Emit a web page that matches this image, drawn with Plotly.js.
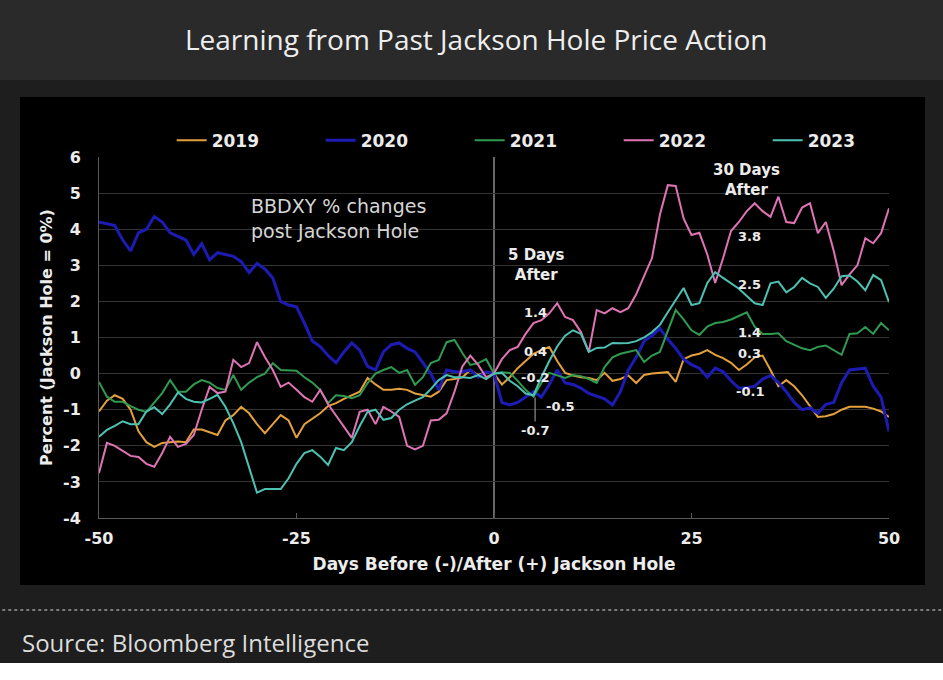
<!DOCTYPE html>
<html>
<head>
<meta charset="utf-8">
<script src="https://cdn.plot.ly/plotly-3.0.1.min.js"></script>
<style>
  html, body { margin: 0; padding: 0; background: #ffffff; }
  #chart { width: 943px; height: 680px; }
</style>
</head>
<body>
<div id="chart"></div>
<script>
// ---- Data ----
const days = [];
for (let d = -50; d <= 50; d++) days.push(d);

const seriesNames = ["2019", "2020", "2021", "2022", "2023"];

const y2019 = [-1.05,-0.75,-0.6,-0.7,-1.0,-1.6,-1.9,-2.03,-1.92,-1.9,
  -1.88,-1.9,-1.55,-1.55,-1.62,-1.7,-1.3,-1.15,-0.92,-1.1,
  -1.4,-1.65,-1.4,-1.15,-1.3,-1.78,-1.4,-1.25,-1.1,-0.9,
  -0.82,-0.7,-0.6,-0.5,-0.12,-0.3,-0.45,-0.45,-0.42,-0.45,
  -0.55,-0.6,-0.64,-0.5,-0.18,-0.15,-0.1,0.1,-0.04,0.04,
  0,
  -0.3,-0.1,0.15,0.35,0.55,0.65,0.74,0.35,0.02,-0.05,
  -0.1,-0.12,-0.18,0.02,-0.2,-0.15,-0.05,-0.26,-0.04,0.0,
  0.02,0.04,-0.23,0.4,0.5,0.55,0.65,0.52,0.43,0.3,
  0.1,0.25,0.45,0.5,0.1,-0.35,-0.18,-0.35,-0.6,-0.9,
  -1.2,-1.18,-1.12,-1.0,-0.92,-0.92,-0.92,-0.97,-1.05,-1.2];

const y2020 = [4.2,4.15,4.1,3.7,3.4,3.9,4.0,4.35,4.2,3.9,
  3.8,3.7,3.3,3.6,3.15,3.35,3.3,3.25,3.1,2.8,
  3.05,2.9,2.65,2.0,1.9,1.85,1.4,0.9,0.75,0.5,
  0.3,0.6,0.85,0.65,0.2,0.1,0.6,0.8,0.85,0.7,
  0.6,0.3,0.0,-0.45,0.1,0.05,0.05,0.1,-0.1,0.05,
  0,
  -0.8,-0.87,-0.8,-0.65,-0.5,-0.65,-0.3,0.1,-0.26,-0.3,
  -0.4,-0.55,-0.62,-0.7,-0.87,-0.5,0.1,0.45,0.9,1.05,
  1.25,0.95,0.7,0.4,0.25,0.15,-0.1,0.15,0.05,-0.2,
  -0.4,-0.4,-0.35,-0.15,-0.05,-0.25,-0.5,-0.8,-1.0,-0.95,
  -1.1,-0.85,-0.8,-0.25,0.1,0.12,0.15,-0.35,-0.65,-1.6];

const y2021 = [-0.23,-0.64,-0.78,-0.78,-0.9,-1.0,-1.06,-0.8,-0.54,-0.18,
  -0.5,-0.5,-0.3,-0.18,-0.25,-0.4,-0.45,-0.04,-0.45,-0.25,
  -0.1,0.0,0.29,0.1,0.1,0.08,-0.1,-0.25,-0.45,-0.82,
  -0.6,-0.62,-0.68,-0.6,-0.26,0.0,0.1,0.18,0.02,0.1,
  -0.31,-0.1,0.29,0.38,0.87,0.93,0.57,0.24,0.29,0.4,
  0,
  0.04,0.02,-0.2,-0.45,-0.64,-0.26,0.02,-0.05,-0.12,-0.04,
  -0.07,-0.15,-0.26,0.18,0.45,0.55,0.6,0.65,0.32,0.5,
  0.6,1.2,1.76,1.5,1.2,1.07,1.3,1.4,1.43,1.5,
  1.6,1.7,1.3,1.1,1.1,1.12,0.9,0.8,0.7,0.65,
  0.74,0.78,0.65,0.52,1.1,1.12,1.29,1.1,1.4,1.2];

const y2022 = [-2.75,-1.92,-2.0,-2.15,-2.28,-2.31,-2.5,-2.58,-2.2,-1.75,
  -2.03,-1.95,-1.7,-1.0,-0.37,-0.54,-0.5,0.38,0.18,0.29,
  0.87,0.46,0.1,-0.37,-0.25,-0.45,-0.65,-0.78,-0.45,-0.85,
  -1.15,-1.45,-1.78,-1.06,-1.0,-1.4,-0.92,-1.05,-1.2,-2.0,
  -2.1,-2.0,-1.3,-1.28,-1.1,-0.5,0.2,0.5,0.24,-0.1,
  0,
  0.4,0.65,0.74,1.1,1.4,1.48,1.67,1.95,1.57,1.48,
  1.15,0.6,1.76,1.67,1.81,1.7,1.81,2.2,2.7,3.2,
  4.4,5.22,5.2,4.3,3.84,3.9,3.3,2.51,3.2,3.95,
  4.2,4.5,4.72,4.5,4.34,4.9,4.2,4.17,4.6,4.72,
  3.89,4.2,3.4,2.45,2.75,3.0,3.75,3.61,3.89,4.58];

const y2023 = [-1.75,-1.56,-1.45,-1.32,-1.4,-1.4,-1.05,-0.93,-1.12,-0.85,
  -0.52,-0.7,-0.78,-0.8,-0.7,-0.59,-0.92,-1.37,-1.9,-2.6,
  -3.3,-3.2,-3.2,-3.2,-2.9,-2.5,-2.2,-2.12,-2.3,-2.53,
  -2.06,-2.12,-1.9,-1.45,-1.06,-1.0,-1.28,-1.23,-1.0,-0.85,
  -0.75,-0.65,-0.43,-0.18,-0.04,-0.1,-0.1,-0.12,-0.04,-0.15,
  0,
  0.02,-0.2,-0.35,-0.55,-0.6,-0.1,0.35,0.75,1.05,1.2,
  1.1,0.6,0.71,0.72,0.85,0.84,0.85,0.9,1.0,1.15,
  1.35,1.7,2.05,2.37,1.9,1.95,2.51,2.81,2.65,2.5,
  2.35,2.15,1.95,1.9,2.5,2.55,2.25,2.4,2.65,2.5,
  2.4,2.1,2.35,2.7,2.72,2.55,2.31,2.73,2.59,1.98];

const seriesValues = [y2019, y2020, y2021, y2022, y2023];
const seriesColors = ["#e3a03c", "#1c1cb4", "#2f9a50", "#de74b4", "#4ec2b2"];
const seriesWidths = [2, 3, 2, 2, 2];

const xTicks = [-50, -25, 0, 25, 50];
const yTicks = [-4, -3, -2, -1, 0, 1, 2, 3, 4, 5, 6];

// Labels at 5 and 30 days after
const labels5 = [["1.4", 1.7], ["0.4", 0.6], ["-0.2", -0.12]];
const labels30 = [["3.8", 3.8], ["2.5", 2.48], ["1.4", 1.14], ["0.3", 0.57], ["-0.1", -0.5]];

// ---- Traces ----
const traces = seriesNames.map((name, i) => ({
  type: "scatter",
  mode: "lines",
  name: name,
  x: days,
  y: seriesValues[i],
  line: { color: seriesColors[i], width: seriesWidths[i] },
  hoverinfo: "x+y+name"
}));

const boldFont = (size, color) => ({ family: "DejaVu Sans, Verdana, sans-serif", size: size, color: color || "#ececec", weight: "bold" });

const annotations = [
  { xref: "x", yref: "y", x: -31, y: 4.3, xanchor: "left", yanchor: "middle", align: "left",
    text: "BBDXY % changes<br>post Jackson Hole", showarrow: false,
    font: { family: "DejaVu Sans, Verdana, sans-serif", size: 19, color: "#d6d6d6" } },
  { xref: "x", yref: "y", x: 5.4, y: 3.0, text: "5 Days<br>After", showarrow: false, font: boldFont(15) },
  { xref: "x", yref: "y", x: 32, y: 5.36, text: "30 Days<br>After", showarrow: false, font: boldFont(15) },
  { xref: "x", yref: "y", x: 8.3, y: -0.9, text: "-0.5", showarrow: false, font: boldFont(13) },
  { xref: "x", yref: "y", x: 5.2, y: -0.66, text: "-0.7", showarrow: true, arrowhead: 0, arrowwidth: 1,
    arrowcolor: "#aaaaaa", ax: 0, ay: 33, font: boldFont(13) },
  { xref: "paper", yref: "paper", x: -0.1, y: -0.3435, xanchor: "left", yanchor: "middle",
    text: "Source: Bloomberg Intelligence", showarrow: false,
    font: { family: "Open Sans, Noto Sans, sans-serif", size: 24, color: "#dcdcdc" } }
];
labels5.forEach(l => annotations.push({ xref: "x", yref: "y", x: 5.2, y: l[1], text: l[0], showarrow: false, font: boldFont(13) }));
labels30.forEach(l => annotations.push({ xref: "x", yref: "y", x: 32.4, y: l[1], text: l[0], showarrow: false, font: boldFont(13) }));

const layout = {
  width: 943,
  height: 680,
  margin: { l: 99, r: 54, t: 157, b: 162, pad: 0 },
  paper_bgcolor: "#1e1e1e",
  plot_bgcolor: "#000000",
  title: {
    text: "Learning from Past Jackson Hole Price Action",
    x: 0.505, xanchor: "center", xref: "container",
    y: 1 - 40 / 680, yanchor: "middle", yref: "container",
    font: { family: "Open Sans, Noto Sans, sans-serif", size: 28, color: "#eeeeee" }
  },
  showlegend: true,
  legend: {
    orientation: "h",
    x: 0.092, xanchor: "left",
    y: 1.045, yanchor: "middle",
    font: boldFont(17),
    bgcolor: "rgba(0,0,0,0)",
    entrywidth: 104,
    entrywidthmode: "pixels",
    itemwidth: 30
  },
  xaxis: {
    range: [-50, 50],
    tickvals: xTicks,
    ticktext: xTicks.map(String),
    tickfont: boldFont(16),
    ticklabelstandoff: 6,
    showgrid: false,
    zeroline: false,
    showline: true,
    linecolor: "#5a5a5a",
    linewidth: 1,
    ticks: "inside",
    ticklen: 5,
    tickcolor: "#5a5a5a",
    title: { text: "Days Before (-)/After (+) Jackson Hole", font: boldFont(17), standoff: 10 },
    fixedrange: true
  },
  yaxis: {
    range: [-4, 6],
    tickvals: yTicks,
    ticktext: yTicks.map(String),
    tickfont: boldFont(16),
    showgrid: true,
    gridcolor: "#333333",
    gridwidth: 1,
    zeroline: false,
    showline: true,
    linecolor: "#5a5a5a",
    ticks: "",
    ticklabelstandoff: 14,
    title: { text: "Percent (Jackson Hole = 0%)", font: boldFont(16), standoff: 6 },
    fixedrange: true
  },
  shapes: [
    // header band
    { type: "rect", xref: "paper", yref: "paper", x0: -0.13, x1: 1.07, y0: 1.2133, y1: 1.44,
      fillcolor: "#2a2a2a", line: { width: 0 }, layer: "below" },
    // black chart panel
    { type: "rect", xref: "paper", yref: "paper", x0: -0.1, x1: 1.0456, y0: -0.1856, y1: 1.1662,
      fillcolor: "#000000", line: { width: 0 }, layer: "below" },
    // dotted separator
    { type: "line", xref: "paper", yref: "paper", x0: -0.13, x1: 1.07, y0: -0.2548, y1: -0.2548,
      line: { color: "#9a9a9a", width: 1.5, dash: "dot" }, layer: "below" },
    // white strip at the bottom
    { type: "rect", xref: "paper", yref: "paper", x0: -0.13, x1: 1.07, y0: -0.46, y1: -0.4017,
      fillcolor: "#ffffff", line: { width: 0 }, layer: "below" },
    // Jackson Hole day marker
    { type: "line", xref: "x", yref: "paper", x0: 0, x1: 0, y0: 0, y1: 1,
      line: { color: "#cfcfcf", width: 1 }, layer: "below" }
  ],
  annotations: annotations
};

Plotly.newPlot("chart", traces, layout, { displayModeBar: false, staticPlot: true });
</script>
</body>
</html>
